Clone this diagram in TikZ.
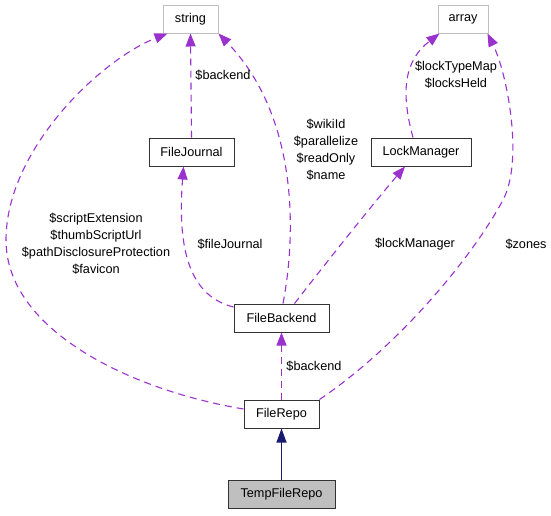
\documentclass[tikz,border=0pt]{standalone}
\usepackage{fontspec}
\setmainfont{Liberation Sans}
\usetikzlibrary{arrows.meta}
\definecolor{dep}{RGB}{154,50,205}
\definecolor{inh}{RGB}{25,25,112}
\definecolor{grayb}{RGB}{191,191,191}
\tikzset{
  txt/.style={font=\fontsize{12.7}{17}\selectfont, inner sep=0pt, align=center},
  cls/.style={txt, draw=black!80, line width=1pt, minimum height=28pt, fill=white},
  ext/.style={cls, draw=grayb},
  cur/.style={cls, fill=grayb},
  depedge/.style={draw=dep, line width=1.1pt, dash pattern=on 7pt off 5pt,
    -{Triangle[length=13pt,width=10pt,fill=dep,sep=0pt]}, shorten >=0pt},
  inhedge/.style={draw=inh, line width=1.1pt,
    -{Triangle[length=14pt,width=10pt,fill=inh]}},
  lbl/.style={txt}
}
\begin{document}
\begin{tikzpicture}[x=1pt,y=-1pt]
\useasboundingbox (0,0) rectangle (551,515);
% nodes
\node[ext, minimum width=55pt] (string) at (190.5,19) {string};
\node[ext, minimum width=50pt] (array) at (463,19) {array};
\node[cls, minimum width=85pt] (FileJournal) at (191.5,152) {FileJournal};
\node[cls, minimum width=100pt] (LockManager) at (421,152) {LockManager};
\node[cls, minimum width=95pt] (FileBackend) at (281.5,318) {FileBackend};
\node[cls, minimum width=75pt] (FileRepo) at (281.5,414) {FileRepo};
\node[cur, minimum width=107pt] (TempFileRepo) at (281.5,494.5) {TempFileRepo};
% edges
\draw[depedge] (FileJournal.north) -- (string.south);
\draw[depedge] ([yshift=11pt]FileBackend.west) .. controls (185,295) and (178,240) .. ([xshift=-8pt]FileJournal.south);
\draw[depedge] ([xshift=1.5pt]FileBackend.north) .. controls (297,230) and (297,115) .. (string.south east);
\draw[depedge] ([xshift=13pt]FileBackend.north) .. controls (322,268) and (372,205) .. ([xshift=-16pt]LockManager.south);
\draw[depedge] ([xshift=-8pt]LockManager.north) .. controls (400,90) and (405,60) .. ([xshift=2pt]array.south west);
\draw[depedge] (FileRepo.north east) .. controls (400,345) and (473,256) .. (503,200) .. controls (524,160) and (507,73) .. ([xshift=-1pt]array.south east);
\draw[depedge] ([yshift=5pt]FileRepo.west) .. controls (130,390) and (6,330) .. (6,240) .. controls (6,150) and (100,60) .. ([xshift=5pt]string.south west);
\draw[depedge] (FileRepo.north) -- (FileBackend.south);
\draw[inhedge] (TempFileRepo.north) -- (FileRepo.south);
% labels
\node[lbl] (l1) at (223,75) {\$backend};
\node[lbl] (l2) at (326,150) {\$wikiId\\\$parallelize\\\$readOnly\\\$name};
\node[lbl] (l3) at (456,75) {\$lockTypeMap\\\$locksHeld};
\node[lbl] (l4) at (96,244) {\$scriptExtension\\\$thumbScriptUrl\\\$pathDisclosureProtection\\\$favicon};
\node[lbl] (l5) at (230,244) {\$fileJournal};
\node[lbl] (l6) at (415,244) {\$lockManager};
\node[lbl] (l7) at (526,244) {\$zones};
\node[lbl] (l8) at (314,366) {\$backend};
\end{tikzpicture}
\end{document}
